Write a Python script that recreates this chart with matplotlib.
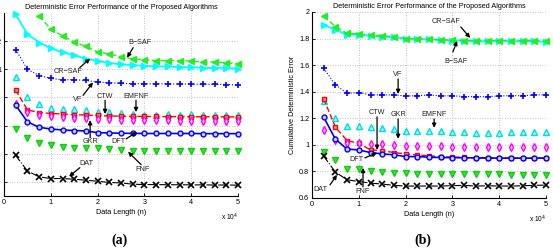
import matplotlib
matplotlib.use("Agg")
import matplotlib.pyplot as plt

plt.rcParams['font.family'] = ['Liberation Sans', 'DejaVu Sans']

# ---------------- data ----------------
n = [0.25, 0.5, 0.75, 1.0, 1.25, 1.5, 1.75, 2.0, 2.25, 2.5,
     2.75, 3.0, 3.25, 3.5, 3.75, 4.0, 4.25, 4.5, 4.75, 5.0]   # x 10^4

# panel (a)
a_crsaf = [1.39, 1.25, 1.19, 1.15, 1.12, 1.10, 1.075, 1.06, 1.045, 1.035,
           1.03, 1.025, 1.02, 1.02, 1.015, 1.015, 1.01, 1.01, 1.01, 1.005]
a_bsaf = [1.38, 1.285, 1.238, 1.194, 1.163, 1.125, 1.109, 1.09, 1.074, 1.067,
          1.062, 1.062, 1.062, 1.058, 1.053, 1.052, 1.046, 1.04]      # from n=0.75
a_vf = [1.14, 1.0, 0.956, 0.935, 0.926, 0.926, 0.921, 0.909, 0.905, 0.90,
        0.898, 0.897, 0.897, 0.897, 0.895, 0.895, 0.893, 0.893, 0.892, 0.888]
a_emfnf = [0.947, 0.806, 0.757, 0.724, 0.717, 0.717, 0.71, 0.70, 0.694, 0.69,
           0.682, 0.677, 0.677, 0.682, 0.677, 0.682, 0.677, 0.677, 0.677, 0.677]
a_ctw = [0.853, 0.712, 0.693, 0.686, 0.683, 0.678, 0.675, 0.672, 0.668, 0.667,
         0.666, 0.665, 0.665, 0.664, 0.664, 0.663, 0.663, 0.663, 0.662, 0.662]
a_gkr = [0.757, 0.698, 0.672, 0.665, 0.66, 0.655, 0.652, 0.648, 0.645, 0.643,
         0.641, 0.64, 0.638, 0.637, 0.636, 0.635, 0.634, 0.633, 0.633, 0.632]
a_dft = [0.745, 0.627, 0.588, 0.576, 0.569, 0.565, 0.562, 0.55, 0.548, 0.546,
         0.545, 0.544, 0.544, 0.544, 0.544, 0.544, 0.543, 0.543, 0.543, 0.543]
a_fnf = [0.576, 0.511, 0.475, 0.459, 0.447, 0.443, 0.441, 0.438, 0.433, 0.426,
         0.42, 0.42, 0.42, 0.419, 0.419, 0.419, 0.418, 0.418, 0.418, 0.418]
a_dat = [0.388, 0.278, 0.236, 0.224, 0.224, 0.219, 0.212, 0.205, 0.196, 0.193,
         0.184, 0.181, 0.181, 0.18, 0.18, 0.179, 0.179, 0.178, 0.178, 0.177]

# panel (b)
b_bsaf = [1.97, 1.89, 1.84, 1.835, 1.825, 1.82, 1.815, 1.80, 1.80, 1.795,
          1.79, 1.79, 1.785, 1.785, 1.785, 1.785, 1.785, 1.785, 1.785, 1.78]
b_crsaf = [1.905, 1.865, 1.83, 1.83, 1.82, 1.815, 1.81, 1.80, 1.795, 1.795,
           1.79, 1.785, 1.785, 1.78, 1.78, 1.785, 1.78, 1.78, 1.78, 1.775]
b_vf = [1.577, 1.451, 1.389, 1.394, 1.376, 1.376, 1.376, 1.368, 1.37, 1.376,
        1.368, 1.37, 1.363, 1.363, 1.363, 1.368, 1.37, 1.37, 1.376, 1.377]
b_emfnf = [1.33, 1.205, 1.145, 1.143, 1.133, 1.125, 1.118, 1.108, 1.105, 1.105,
           1.108, 1.098, 1.095, 1.093, 1.093, 1.093, 1.095, 1.095, 1.095, 1.097]
b_gkr = [1.115, 1.04, 1.015, 1.012, 1.01, 1.008, 1.0, 0.995, 0.99, 0.99,
         0.988, 0.985, 0.985, 0.985, 0.983, 0.983, 0.983, 0.983, 0.983, 0.983]
b_ctw = [1.346, 1.133, 1.032, 1.012, 0.962, 0.957, 0.942, 0.932, 0.925, 0.917,
         0.912, 0.908, 0.905, 0.903, 0.902, 0.901, 0.90, 0.90, 0.90, 0.90]
b_dft = [1.208, 1.043, 0.968, 0.962, 0.942, 0.932, 0.925, 0.912, 0.912, 0.907,
         0.905, 0.904, 0.903, 0.902, 0.901, 0.90, 0.90, 0.90, 0.90, 0.90]
b_fnf = [0.95, 0.887, 0.817, 0.817, 0.80, 0.792, 0.787, 0.785, 0.783, 0.782,
         0.78, 0.78, 0.778, 0.778, 0.777, 0.777, 0.776, 0.776, 0.775, 0.775]
b_dat = [0.915, 0.795, 0.737, 0.724, 0.712, 0.705, 0.695, 0.69, 0.69, 0.69,
         0.69, 0.693, 0.695, 0.69, 0.692, 0.69, 0.69, 0.692, 0.695, 0.697]

title = "Deterministic Error Performance of the Proposed Algorithms"
xlabel = "Data Length (n)"
ylabel_b = "Cumulative Deterministic Error"

# ---------------- styles ----------------
CY = '#00ffff'
GR = '#22ee22'
FS = 5.2

fig = plt.figure(figsize=(5.53, 2.5), dpi=100)
axA = fig.add_axes([4/553, 54/250, 234/553, 183/250])
axB = fig.add_axes([312/553, 52/250, 234/553, 186/250])


def style_axes(ax, ylim, yticks):
    ax.set_xlim(0, 5)
    ax.set_ylim(*ylim)
    ax.set_xticks([0, 1, 2, 3, 4, 5])
    ax.set_yticks(yticks)
    ax.set_yticklabels([('%g' % t) for t in yticks])
    ax.grid(True, linestyle=(0, (1, 2)), color='#b0b0b0', linewidth=0.6)
    ax.spines['top'].set_visible(False)
    ax.spines['right'].set_visible(False)
    for s in ('left', 'bottom'):
        ax.spines[s].set_linewidth(0.8)
    ax.tick_params(direction='in', length=2.5, width=0.6, labelsize=FS, pad=2)
    ax.set_xlabel(xlabel, fontsize=FS, labelpad=2)
    ax.set_title(title, fontsize=FS, pad=3)
    ax.text(1.0, -0.085, r'x 10$^4$', transform=ax.transAxes, fontsize=FS - 0.4,
            ha='right', va='top')


ms = 4


def plot_all(ax, crsaf, bsaf, bsaf_x, vf, emfnf, ctw, gkr, dft, fnf, dat):
    ax.plot(n, crsaf, color=CY, marker='>', ms=ms, lw=1.3, mfc=CY, mec=CY, clip_on=False)
    ax.plot(bsaf_x, bsaf, color=GR, marker='<', ms=ms, lw=1.0, ls=(0, (4, 2)), mfc=GR, mec=GR, clip_on=False)
    ax.plot(n, vf, color='#0000ff', marker='+', ms=ms + 1, mew=1.2, lw=0.8, ls=':', clip_on=False)
    ax.plot(n, emfnf, color=CY, marker='^', ms=ms, ls='none', mfc='#99ffff', mec='#00dddd', clip_on=False)
    ax.plot(n, ctw, color='#ff0000', marker='s', ms=ms - 0.5, lw=1.0, ls=(0, (4, 2)), mfc='#ff9999', mec='#ff0000', clip_on=False)
    ax.plot(n, gkr, color='#ff00ff', marker='d', ms=ms, ls='none', mfc='#ffccff', mec='#ff00ff', clip_on=False)
    ax.plot(n, dft, color='#0000ff', marker='o', ms=ms - 0.5, lw=1.2, mfc='#ccccff', mec='#0000ff', clip_on=False)
    ax.plot(n, fnf, color=GR, marker='v', ms=ms, ls='none', mfc=GR, mec='#11cc11', clip_on=False)
    ax.plot(n, dat, color='k', marker='x', ms=ms, mew=1.2, lw=0.8, ls='-.', clip_on=False)


plot_all(axA, a_crsaf, a_bsaf, n[2:], a_vf, a_emfnf, a_ctw, a_gkr, a_dft, a_fnf, a_dat)
plot_all(axB, b_crsaf, b_bsaf, n, b_vf, b_emfnf, b_ctw, b_gkr, b_dft, b_fnf, b_dat)

style_axes(axA, (0.1, 1.4), [0.2, 0.4, 0.6, 0.8, 1.0, 1.2])
style_axes(axB, (0.6, 2.0), [0.6, 0.8, 1.0, 1.2, 1.4, 1.6, 1.8, 2.0])
axB.set_ylabel(ylabel_b, fontsize=FS, labelpad=2)

# annotations: (label, text_xy, tail_xy, head_xy)
notes_a = [
    ("B\u2212SAF", (2.91, 1.189), (2.76, 1.154), (2.63, 1.083)),
    ("CR\u2212SAF", (1.37, 0.984), (1.62, 1.013), (1.84, 1.076)),
    ("VF", (1.58, 0.787), (1.69, 0.815), (1.90, 0.907)),
    ("CTW", (2.16, 0.808), (2.16, 0.780), (2.16, 0.682)),
    ("EMFNF", (2.82, 0.808), (2.82, 0.780), (2.82, 0.696)),
    ("GKR", (1.84, 0.485), (1.84, 0.513), (1.84, 0.639)),
    ("DFT", (2.44, 0.485), (2.61, 0.506), (2.84, 0.555)),
    ("FNF", (2.97, 0.287), (2.93, 0.323), (2.65, 0.414)),
    ("DAT", (1.75, 0.330), (1.62, 0.301), (1.39, 0.238)),
]
notes_b = [
    ("CR\u2212SAF", (2.86, 1.932), (3.18, 1.887), (3.38, 1.805)),
    ("B\u2212SAF", (3.08, 1.624), (3.01, 1.699), (3.10, 1.782)),
    ("VF", (1.84, 1.526), (1.84, 1.496), (1.84, 1.383)),
    ("CTW", (1.39, 1.241), (1.39, 1.211), (1.39, 0.962)),
    ("GKR", (1.84, 1.226), (1.84, 1.195), (1.84, 1.045)),
    ("EMFNF", (2.61, 1.226), (2.61, 1.195), (2.61, 1.128)),
    ("DFT", (0.96, 0.887), (1.13, 0.902), (1.39, 0.940)),
    ("DAT", (0.17, 0.662), (0.385, 0.699), (0.534, 0.774)),
    ("FNF", (1.07, 0.647), (1.09, 0.684), (1.09, 0.827)),
]
for ax, notes in ((axA, notes_a), (axB, notes_b)):
    for lab, txy, tail, head in notes:
        ax.text(txy[0], txy[1], lab, fontsize=FS, ha='center', va='center', color='#222222')
        ax.annotate('', xy=head, xytext=tail,
                    arrowprops=dict(arrowstyle='-|>', color='k', lw=0.9,
                                    mutation_scale=6, shrinkA=0, shrinkB=0))

fig.text(120/553, 1 - 240/250, '(a)', fontsize=10, fontweight='bold',
         family=['Liberation Serif', 'DejaVu Serif'], ha='center', va='center')
fig.text(423/553, 1 - 240/250, '(b)', fontsize=10, fontweight='bold',
         family=['Liberation Serif', 'DejaVu Serif'], ha='center', va='center')

fig.savefig('out.png', dpi=100)
